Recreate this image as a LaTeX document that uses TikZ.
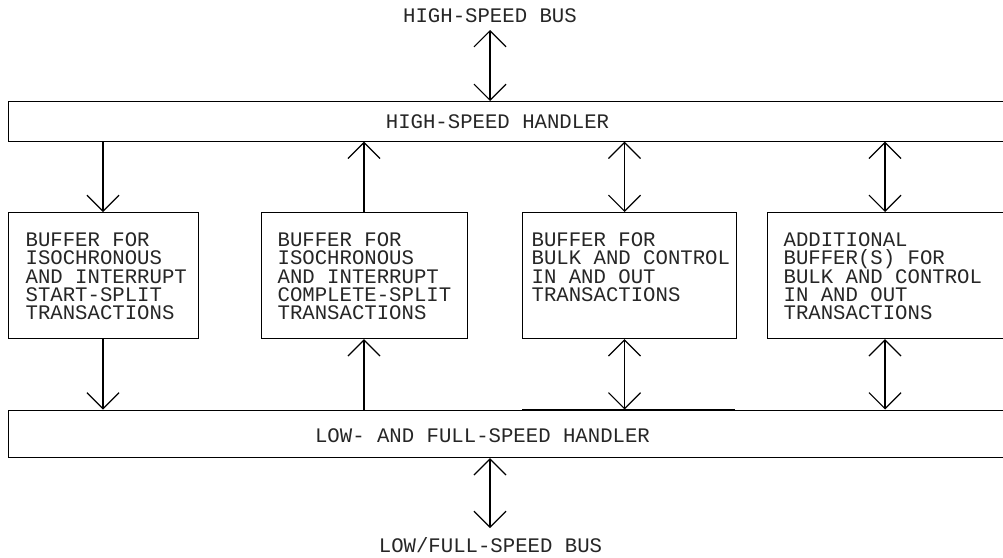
\documentclass[tikz,border=0pt]{standalone}
\usepackage{fontspec}
\setmainfont{Liberation Mono}
\usetikzlibrary{arrows.meta}
\begin{document}
\begin{tikzpicture}[x=0.75pt,y=-0.75pt,
  line width=0.9pt,
  blk/.style={draw, rectangle, inner sep=0pt, anchor=north west},
  lbl/.style={inner sep=0pt, font=\fontsize{15.5pt}{13.75pt}\selectfont, text=black!85},
  boxtxt/.style={lbl, anchor=north west, align=left},
  one/.style={-{Straight Barb[length=12pt, width=24pt]}},
  two/.style={{Straight Barb[length=12pt, width=24pt]}-{Straight Barb[length=12pt, width=24pt]}}
]
\useasboundingbox (0,0) rectangle (1003,557);
\clip (0,0) rectangle (1003,557);

% handlers
\node[blk, minimum width=1002*0.75pt, minimum height=39.5*0.75pt] (hs) at (8,101) {};
\node[blk, minimum width=1002*0.75pt, minimum height=47.5*0.75pt] (ls) at (8,409.5) {};
\draw[line width=1.25pt] (522,409.5) -- (735,409.5);

% buffers
\node[blk, minimum width=190*0.75pt, minimum height=126*0.75pt] (b1) at (8,212) {};
\node[blk, minimum width=206*0.75pt, minimum height=126*0.75pt] (b2) at (261,212) {};
\node[blk, minimum width=214*0.75pt, minimum height=126*0.75pt] (b3) at (522,212) {};
\node[blk, minimum width=243*0.75pt, minimum height=126*0.75pt] (b4) at (767,212) {};

% labels
\node[lbl, anchor=base] (hsbus) at (490,22.7) {HIGH-SPEED BUS};
\node[lbl, anchor=base] (hstxt) at (497.5,128.3) {HIGH-SPEED HANDLER};
\node[lbl, anchor=base] (lstxt) at (482.5,442) {LOW- AND FULL-SPEED HANDLER};
\node[lbl, anchor=base] (lsbus) at (490.5,552) {LOW/FULL-SPEED BUS};

\node[boxtxt] (t1) at (25,232) {BUFFER FOR\\ISOCHRONOUS\\AND INTERRUPT\\START-SPLIT\\TRANSACTIONS};
\node[boxtxt] (t2) at (277,232) {BUFFER FOR\\ISOCHRONOUS\\AND INTERRUPT\\COMPLETE-SPLIT\\TRANSACTIONS};
\node[boxtxt] (t3) at (531,232) {BUFFER FOR\\BULK AND CONTROL\\IN AND OUT\\TRANSACTIONS};
\node[boxtxt] (t4) at (783,232) {ADDITIONAL\\BUFFER(S) FOR\\BULK AND CONTROL\\IN AND OUT\\TRANSACTIONS};

% arrow columns
\coordinate (xbus) at (490,30);
\coordinate (x1) at (103,0);
\coordinate (x2) at (364,0);
\coordinate (x3) at (624.5,0);
\coordinate (x4) at (885,0);
\coordinate (xlow) at (490,528);

% connectors
\draw[two] (xbus) -- (hs.north -| xbus);
\draw[one] (hs.south -| x1) -- (b1.north -| x1);
\draw[one] (b2.north -| x2) -- (hs.south -| x2);
\draw[two] (hs.south -| x3) -- (b3.north -| x3);
\draw[two] (hs.south -| x4) -- (b4.north -| x4);
\draw[one] (b1.south -| x1) -- (ls.north -| x1);
\draw[one] (ls.north -| x2) -- (b2.south -| x2);
\draw[two] (b3.south -| x3) -- (ls.north -| x3);
\draw[two] (b4.south -| x4) -- (ls.north -| x4);
\draw[two] (ls.south -| xlow) -- (xlow);
\end{tikzpicture}
\end{document}
